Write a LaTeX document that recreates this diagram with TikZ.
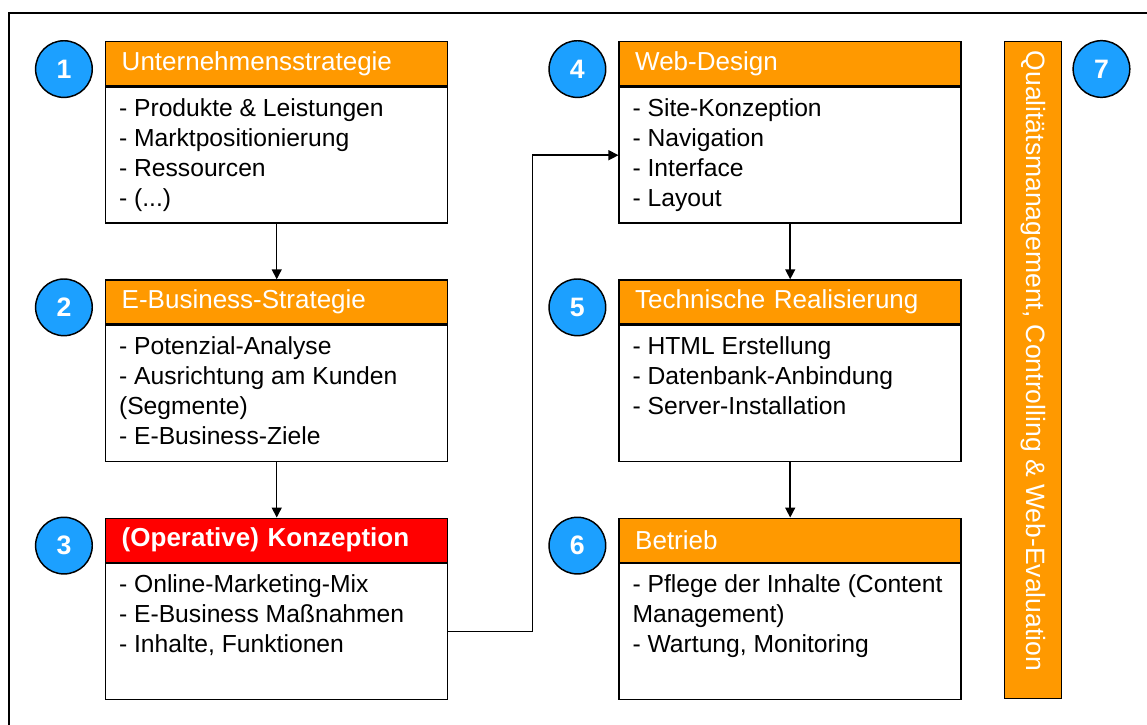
\documentclass[tikz,border=0pt]{standalone}
\usepackage{fontspec}
\setmainfont{Liberation Sans}
\usetikzlibrary{arrows.meta, positioning}

\definecolor{headorange}{RGB}{255,153,0}
\definecolor{headred}{RGB}{255,0,0}
\definecolor{numblue}{RGB}{28,160,255}

\newcommand{\bodylines}[1]{\parbox[t][85pt][t]{236.5pt}{\raggedright #1}}

\begin{document}
\begin{tikzpicture}[x=0.75pt, y=-0.75pt, node distance=41.5pt, line width=1.1pt,
    every node/.style={inner sep=0pt},
    head/.style={draw, fill=headorange, text=white, minimum width=256.5pt, minimum height=33pt, text width=232.5pt, align=left, inner xsep=12pt, font=\fontsize{19.5}{22}\selectfont},
    body/.style={draw, fill=white, minimum width=256.5pt, inner xsep=10pt, inner ysep=8.5pt, font=\fontsize{18.5}{22.5}\selectfont},
    num/.style={circle, draw, fill=numblue, text=white, minimum size=42.5pt, font=\fontsize{20}{20}\selectfont\bfseries},
    bar/.style={draw, fill=headorange, text=white, minimum width=42.75pt, minimum height=492.75pt, font=\fontsize{19.9}{22}\selectfont},
    arr/.style={-{Triangle[length=7.5pt, width=7.5pt]}}]
    \useasboundingbox (0,0) rectangle (1147,725);
    \draw[line width=1.5pt] (9,725) -- (9,13) -- (1147,13);

    % left column
    \node[head, anchor=north west] (h1) at (105,41) {Unternehmensstrategie};
    \node[body, below=0pt of h1] (b1) {\bodylines{- Produkte \& Leistungen\\- Marktpositionierung\\- Ressourcen\\- (...)}};
    \node[head, below=of b1] (h2) {E-Business-Strategie};
    \node[body, below=0pt of h2] (b2) {\bodylines{- Potenzial-Analyse\\- Ausrichtung am Kunden\\(Segmente)\\- E-Business-Ziele}};
    \node[head, fill=headred, below=of b2, font=\fontsize{19.5}{22}\selectfont\bfseries] (h3) {(Operative) Konzeption};
    \node[body, below=0pt of h3] (b3) {\bodylines{- Online-Marketing-Mix\\- E-Business Maßnahmen\\- Inhalte, Funktionen}};

    % right column
    \node[head, right=127.5pt of h1] (h4) {Web-Design};
    \node[body, below=0pt of h4] (b4) {\bodylines{- Site-Konzeption\\- Navigation\\- Interface\\- Layout}};
    \node[head, below=of b4] (h5) {Technische Realisierung};
    \node[body, below=0pt of h5] (b5) {\bodylines{- HTML Erstellung\\- Datenbank-Anbindung\\- Server-Installation}};
    \node[head, below=of b5] (h6) {Betrieb};
    \node[body, below=0pt of h6] (b6) {\bodylines{- Pflege der Inhalte (Content\\Management)\\- Wartung, Monitoring}};

    \node[bar, right=31.5pt of h4.north east, anchor=north west] (qm) {\rotatebox{-90}{Qualitätsmanagement, Controlling \& Web-Evaluation\hspace*{14pt}}};

    % numbers
    \node[num, left=9pt of h1.west, yshift=-4pt] (n1) {1};
    \node[num, left=9pt of h2.west, yshift=-4pt] (n2) {2};
    \node[num, left=9pt of h3.west, yshift=-4pt] (n3) {3};
    \node[num, left=9pt of h4.west, yshift=-4pt] (n4) {4};
    \node[num, left=9pt of h5.west, yshift=-4pt] (n5) {5};
    \node[num, left=9pt of h6.west, yshift=-4pt] (n6) {6};
    \node[num, right=7.5pt of qm.north east, anchor=west, yshift=-21pt] (n7) {7};

    \draw[arr] (b1) -- (h2);
    \draw[arr] (b2) -- (h3);
    \draw[arr] (b4) -- (h5);
    \draw[arr] (b5) -- (h6);
    \draw[arr] (b3.east) -- ++(63pt,0) |- (b4.west);
\end{tikzpicture}
\end{document}
